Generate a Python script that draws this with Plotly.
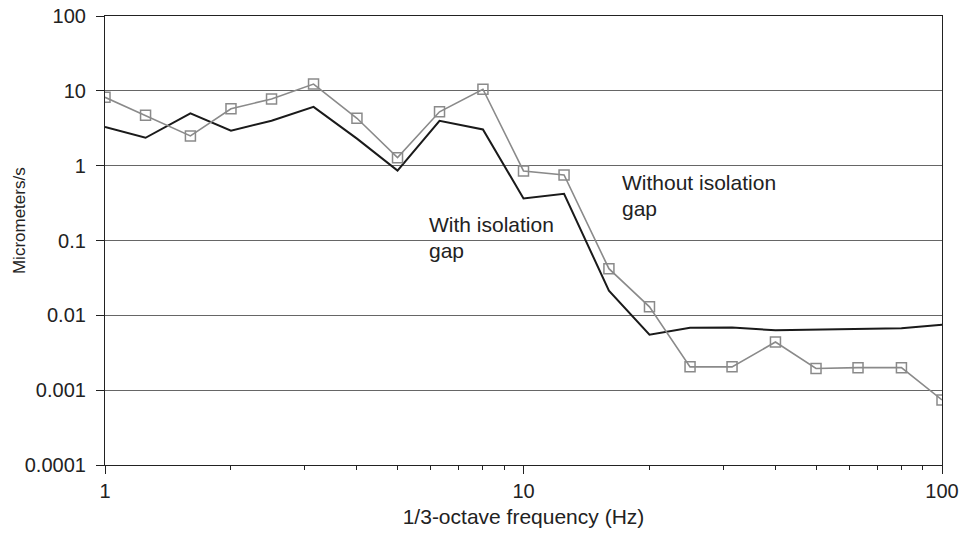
import math
import plotly.graph_objects as go

# 1/3-octave band centre frequencies (Hz)
freqs = [1, 1.25, 1.6, 2, 2.5, 3.15, 4, 5, 6.3, 8, 10, 12.5, 16, 20, 25, 31.5, 40, 50, 63, 80, 100]

# Vibration velocity (micrometers/s)
with_gap = [3.3, 2.36, 5.0, 2.94, 3.98, 6.1, 2.3, 0.86, 3.98, 3.05, 0.365, 0.42,
            0.0214, 0.0055, 0.0068, 0.0069, 0.0063, 0.0064, 0.0066, 0.0067, 0.0075]
without_gap = [8.2, 4.7, 2.5, 5.75, 7.8, 12.3, 4.3, 1.28, 5.25, 10.5, 0.85, 0.75,
               0.042, 0.013, 0.00205, 0.00205, 0.0044, 0.00195, 0.002, 0.002, 0.00074]

y_ticks = [0.0001, 0.001, 0.01, 0.1, 1, 10, 100]
y_labels = ["0.0001", "0.001", "0.01", "0.1", "1", "10", "100"]

x_ticks = [1, 10, 100]
x_labels = ["1", "10", "100"]
x_minor = [2, 3, 4, 5, 6, 7, 8, 9, 20, 30, 40, 50, 60, 70, 80, 90]

FONT = "Liberation Sans, Arial, sans-serif"
INK = "#222222"

fig = go.Figure()
fig.add_trace(go.Scatter(
    x=freqs, y=with_gap, mode="lines",
    line=dict(color="#1a1a1a", width=2), name="With isolation gap",
))
fig.add_trace(go.Scatter(
    x=freqs, y=without_gap, mode="lines+markers",
    line=dict(color="#8a8a8a", width=1.6),
    marker=dict(symbol="square-open", size=10, color="#8a8a8a", line=dict(width=1.5)),
    name="Without isolation gap",
))

# Curve labels: (text, frequency Hz, log10 velocity)
labels = [
    ("With isolation", 5.87, -0.788),
    ("gap", 5.87, -1.132),
    ("Without isolation", 17.0, -0.228),
    ("gap", 17.0, -0.571),
]
for text, fx, ly in labels:
    fig.add_annotation(
        x=math.log10(fx), y=ly, xref="x", yref="y", text=text, showarrow=False,
        xanchor="left", yanchor="middle",
        font=dict(family=FONT, size=21, color=INK),
    )

# Vertical axis title
fig.add_annotation(
    x=-0.1027, y=0.5434, xref="paper", yref="paper", text="Micrometers/s",
    textangle=-90, showarrow=False, xanchor="center", yanchor="middle",
    font=dict(family=FONT, size=17, color=INK),
)

fig.update_layout(
    width=966, height=534,
    margin=dict(l=105, r=24, t=16, b=69),
    paper_bgcolor="white", plot_bgcolor="white",
    showlegend=False,
    font=dict(family=FONT, size=20, color=INK),
)
fig.update_xaxes(
    type="log", range=[0, 2], automargin=False,
    tickmode="array", tickvals=x_ticks, ticktext=x_labels,
    ticks="outside", ticklen=8, tickcolor=INK,
    minor=dict(tickmode="array", tickvals=x_minor, ticks="outside",
               ticklen=4, tickcolor=INK, showgrid=False),
    showline=True, linecolor=INK, linewidth=1.2, mirror=True,
    showgrid=False, zeroline=False,
    title=dict(text="1/3-octave frequency (Hz)", font=dict(size=21), standoff=8),
    tickfont=dict(size=20),
)
fig.update_yaxes(
    type="log", range=[-4, 2], automargin=False,
    tickmode="array", tickvals=y_ticks, ticktext=y_labels,
    ticks="outside", ticklen=8, tickcolor=INK, ticklabelstandoff=6,
    showline=True, linecolor=INK, linewidth=1.2, mirror=True,
    showgrid=True, gridcolor="#666666", gridwidth=1, zeroline=False,
    tickfont=dict(size=20),
)

fig.write_html("out.html")
